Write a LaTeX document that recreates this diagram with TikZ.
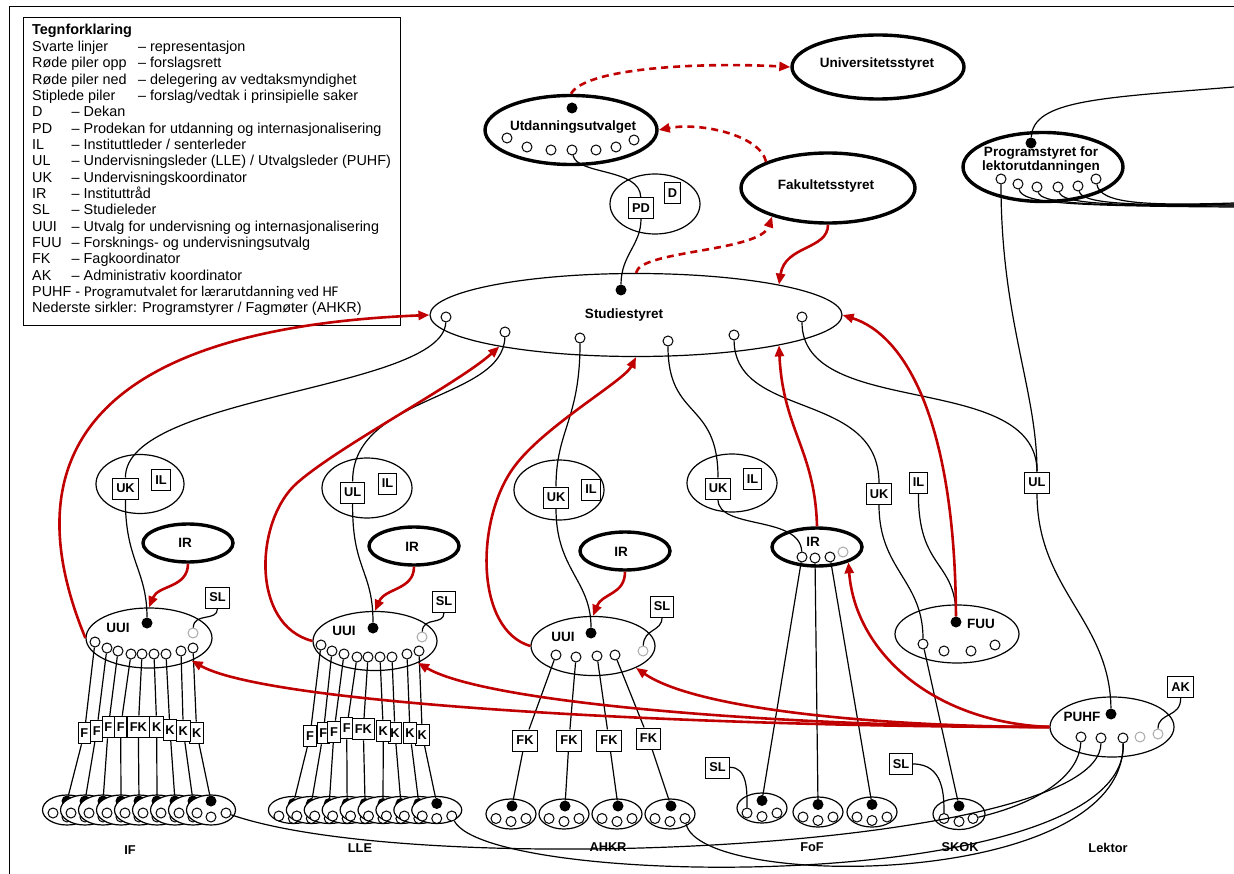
\documentclass[tikz,border=0pt]{standalone}
\usepackage{fontspec}
\setmainfont{Liberation Sans}
\newfontfamily\carl{Carlito}
\usetikzlibrary{shapes.geometric,arrows.meta}
\definecolor{myred}{RGB}{192,0,0}
\definecolor{ltgray}{RGB}{170,170,170}
\newcommand\legf{\fontsize{14.4}{16}\selectfont}
\newcommand\bigf{\fontsize{13.5}{14}\selectfont\bfseries}
\newcommand\labf{\fontsize{12.8}{13}\selectfont\bfseries}
\begin{document}
\begin{tikzpicture}[x=1pt,y=-1pt,
 ln/.style={line width=1.2pt},
 el/.style={ellipse,draw,line width=1.2pt,inner sep=0pt,fill=white},
 tel/.style={ellipse,draw,line width=3.4pt,inner sep=0pt,fill=white},
 sc/.style={circle,draw,line width=1pt,fill=white,inner sep=0pt,minimum size=10pt},
 gsc/.style={sc,draw=ltgray},
 bd/.style={circle,fill=black,inner sep=0pt,minimum size=11pt},
 bx/.style={draw,fill=white,line width=1pt,inner xsep=3.5pt,inner ysep=0pt,minimum height=21pt,font=\labf},
 fkb/.style={bx,inner xsep=2.2pt},
 lbl/.style={font=\bigf,inner sep=0pt},
 sml/.style={font=\labf,inner sep=0pt},
 lg/.style={font=\legf,inner sep=0pt,anchor=base west},
 rar/.style={draw=myred,line width=2.6pt,-{Triangle[length=11pt,width=9pt]}},
 dar/.style={rar,dash pattern=on 7pt off 5pt},
]
\useasboundingbox (0,0) rectangle (1234,874);
% frame
\coordinate (fa) at (9,874); \coordinate (fb) at (9,7); \coordinate (fc) at (1234,7);
\draw[line width=1pt] (fa) -- (fb) -- (fc);

% ---------------- legend
\node[draw,line width=1.2pt,fill=white,anchor=north west,minimum width=377pt,minimum height=308pt,inner sep=0pt] (leg) at (23,17) {};
\node[lg,font=\legf\bfseries] (lg0) at (32,35) {Tegnforklaring};
\node[lg] (a1) at (32,51.35) {Svarte linjer};   \node[lg] (b1) at (138,51.35) {– representasjon};
\node[lg] (a2) at (32,67.7) {Røde piler opp};   \node[lg] (b2) at (138,67.7) {– forslagsrett};
\node[lg] (a3) at (32,84.05) {Røde piler ned};  \node[lg] (b3) at (138,84.05) {– delegering av vedtaksmyndighet};
\node[lg] (a4) at (32,100.4) {Stiplede piler};  \node[lg] (b4) at (138,100.4) {– forslag/vedtak i prinsipielle saker};
\node[lg] (a5) at (32,116.75) {D};   \node[lg] (b5) at (71.5,116.75) {– Dekan};
\node[lg] (a6) at (32,133.1) {PD};   \node[lg] (b6) at (71.5,133.1) {– Prodekan for utdanning og internasjonalisering};
\node[lg] (a7) at (32,149.45) {IL};  \node[lg] (b7) at (71.5,149.45) {– Instituttleder / senterleder};
\node[lg] (a8) at (32,165.8) {UL};   \node[lg] (b8) at (71.5,165.8) {– Undervisningsleder (LLE) / Utvalgsleder (PUHF)};
\node[lg] (a9) at (32,182.15) {UK};  \node[lg] (b9) at (71.5,182.15) {– Undervisningskoordinator};
\node[lg] (a10) at (32,198.5) {IR};  \node[lg] (b10) at (71.5,198.5) {– Instituttråd};
\node[lg] (a11) at (32,214.85) {SL}; \node[lg] (b11) at (71.5,214.85) {– Studieleder};
\node[lg] (a12) at (32,231.2) {UUI}; \node[lg] (b12) at (71.5,231.2) {– Utvalg for undervisning og internasjonalisering};
\node[lg] (a13) at (32,247.55) {FUU};\node[lg] (b13) at (71.5,247.55) {– Forsknings- og undervisningsutvalg};
\node[lg] (a14) at (32,263.9) {FK};  \node[lg] (b14) at (71.5,263.9) {– Fagkoordinator};
\node[lg] (a15) at (32,280.25) {AK}; \node[lg] (b15) at (71.5,280.25) {– Administrativ koordinator};
\node[lg] (a16) at (32,296.6) {PUHF - {\carl\fontsize{14.8}{16}\selectfont Programutvalet for lærarutdanning ved HF}};
\node[lg] (a17) at (32,312.95) {Nederste sirkler: Programstyrer / Fagmøter (AHKR)};

% ---------------- top bodies
\node[tel,minimum width=172pt,minimum height=64pt] (univ) at (878,67) {};
\node[lbl] (univt) at (877,64) {Universitetsstyret};
\node[tel,minimum width=172pt,minimum height=69pt] (utd) at (571,130) {};
\node[lbl] (utdt) at (573,127) {Utdanningsutvalget};
\node[bd] (utdd) at (572,108) {};
\foreach \n/\x/\y in {1/507/138,2/527/147,3/551/150,4/572/150,5/596/150,6/616/147,7/634/140}
  \node[sc] (utc\n) at (\x,\y) {};
\node[tel,minimum width=174pt,minimum height=70pt] (fak) at (828,188) {};
\node[lbl] (fakt) at (826,186) {Fakultetsstyret};
\node[el,minimum width=90pt,minimum height=60pt] (pdd) at (655,204) {};
\node[bx] (pd) at (641,208) {PD};
\node[bx] (dk) at (672.5,193.5) {D};
\node[el,minimum width=412pt,minimum height=83pt] (ss) at (636,315) {};
\node[lbl] (sst) at (624,315) {Studiestyret};
\node[bd] (ssd) at (621,290) {};
\foreach \n/\x/\y in {1/446/317,2/505/332,3/580/338,4/668/341,5/734/335,6/802/317}
  \node[sc] (ssc\n) at (\x,\y) {};
\node[tel,minimum width=160pt,minimum height=69pt] (ps) at (1043,167) {};
\node[lbl,align=center] (pst) at (1041,160) {Programstyret for\\lektorutdanningen};
\node[bd] (psd) at (1031,143) {};
\foreach \n/\x/\y in {1/1001/179,2/1018/184,3/1037/187,4/1058/187,5/1078/186,6/1096/179}
  \node[sc] (psc\n) at (\x,\y) {};
\coordinate (pe0) at (1234,87);
\foreach \n/\y in {2/207,3/206,4/205,5/204,6/203} \coordinate (pe\n) at (1234,\y);

% top connectors
\draw[ln] (utc4) .. controls (577,175) and (640,168) .. (pd);
\draw[ln] (pd) .. controls (641,245) and (621,255) .. (ssd);
\draw[ln] (psd) .. controls (1033,100) and (1100,98) .. (pe0);
\foreach \n/\x in {2/1018,3/1037,4/1058,5/1078,6/1096}
  \draw[ln] (psc\n) .. controls (\x+4,203) and (\x+45,206) .. (pe\n);

% ---------------- IF cluster
\node[el,minimum width=88pt,minimum height=59pt] (ukil1) at (140,484) {};
\node[bx] (uk1) at (125.5,488.5) {UK};
\node[bx] (il1) at (161,480) {IL};
\node[tel,minimum width=90pt,minimum height=38pt] (ir1) at (188,543) {};
\node[lbl] (ir1t) at (185,543) {IR};
\node[el,minimum width=126pt,minimum height=60pt] (uui1) at (149,638) {};
\node[lbl] (uui1t) at (118,628) {UUI};
\node[bd] (uui1d) at (147,623) {};
\node[gsc] (uui1g) at (193,633) {};
\node[bx] (sl1) at (217.5,597.5) {SL};
\foreach \n/\x/\y in {1/95/642,2/107/648,3/118/651,4/131/654,5/142/654,6/154/654,7/166/654,8/181/651,9/193/648}
  \node[sc] (ifc\n) at (\x,\y) {};
\foreach \n/\x/\y/\t in {1/84.3/733.3/F,2/96.7/730.7/F,3/108.3/727.3/F,4/120.7/726.7/F,9/196.7/732.7/K,8/183.3/730.7/K,7/170/730/K,6/156.7/726.7/K,5/138.3/726.7/FK}
  \node[fkb] (ifb\n) at (\x,\y) {\t};
\foreach \n in {1,...,9} \draw[ln] (ifc\n) -- (ifb\n);
\foreach \i in {1,...,9} {
  \pgfmathsetmacro\cx{67+18*(\i-1)}
  \node[el,minimum width=49pt,minimum height=30pt] (ife\i) at (\cx,810) {};
  \node[sc] (ifl\i) at (\cx-14,813) {};
  \node[sc] (ifm\i) at (\cx,817) {};
  \node[sc] (ifr\i) at (\cx+15,813) {};
  \node[bd] (ifd\i) at (\cx,801) {};
  \draw[ln] (ifb\i) -- (ifd\i);
}
\node[sml] (iflab) at (130,850) {IF};

% ---------------- LLE cluster
\node[el,minimum width=90pt,minimum height=60pt] (ukil2) at (367,488) {};
\node[bx] (ul2) at (352.7,492.5) {UL};
\node[bx] (il2) at (387.6,483.5) {IL};
\node[tel,minimum width=90pt,minimum height=38pt] (ir2) at (414,546) {};
\node[lbl] (ir2t) at (412,546.5) {IR};
\node[el,minimum width=124pt,minimum height=59pt] (uui2) at (375,641) {};
\node[lbl] (uui2t) at (344,631) {UUI};
\node[bd] (uui2d) at (373,628) {};
\node[gsc] (uui2g) at (422,637) {};
\node[bx] (sl2) at (444,601.5) {SL};
\foreach \n/\x/\y in {1/321/645,2/332/651,3/344/654,4/357/657,5/368/657,6/380/657,7/392/657,8/407/654,9/419/651}
  \node[sc] (llc\n) at (\x,\y) {};
\foreach \n/\x/\y/\t in {1/310/736/F,2/323.3/733.3/F,3/334/731.7/F,4/346.7/728.3/F,9/422.3/735/K,8/410/733.3/K,7/395/732.7/K,6/383.3/730.7/K,5/363.3/729.3/FK}
  \node[fkb] (llb\n) at (\x,\y) {\t};
\foreach \n in {1,...,9} \draw[ln] (llc\n) -- (llb\n);
\foreach \i in {1,...,9} {
  \pgfmathsetmacro\cx{293.4+17.92*(\i-1)}
  \node[el,minimum width=50pt,minimum height=27pt] (lle\i) at (\cx,810) {};
  \node[sc] (lll\i) at (\cx-14.5,816) {};
  \node[sc] (llm\i) at (\cx,818.5) {};
  \node[sc] (llr\i) at (\cx+15,816) {};
  \node[bd] (lld\i) at (\cx,803.5) {};
  \draw[ln] (llb\i) -- (lld\i);
}
\node[sml] (lllab) at (360,848) {LLE};

% ---------------- AHKR cluster
\node[el,minimum width=90pt,minimum height=60pt] (ukil3) at (559,490) {};
\node[bx] (uk3) at (556,497.5) {UK};
\node[bx] (il3) at (591,489.5) {IL};
\node[tel,minimum width=90pt,minimum height=38pt] (ir3) at (625,551) {};
\node[lbl] (ir3t) at (621,551.5) {IR};
\node[el,minimum width=124pt,minimum height=59pt] (uui3) at (593,646) {};
\node[lbl] (uui3t) at (563,637) {UUI};
\node[bd] (uui3d) at (591,633) {};
\node[gsc] (uui3g) at (643,651) {};
\node[bx] (sl3) at (662,606.5) {SL};
\foreach \n/\x/\y in {1/556/655,2/576/657,3/597/656,4/615/655}
  \node[sc] (ahc\n) at (\x,\y) {};
\foreach \n/\x/\y in {1/525/740.5,2/569/740.5,3/609/740.5,4/648.5/738.5}
  \node[bx] (ahb\n) at (\x,\y) {FK};
\foreach \n/\x in {1/511,2/564,3/617,4/670} {
  \node[el,minimum width=50pt,minimum height=30pt] (ahe\n) at (\x,814) {};
  \node[bd] (ahd\n) at (\x+1,806) {};
  \node[sc] (ahl\n) at (\x-15,818.5) {};
  \node[sc] (ahm\n) at (\x,821.5) {};
  \node[sc] (ahr\n) at (\x+15,818.5) {};
}
\foreach \n in {1,...,4} {\draw[ln] (ahc\n) -- (ahb\n); \draw[ln] (ahb\n) -- (ahd\n);}
\node[sml] (ahlab) at (608,847) {AHKR};

% ---------------- FoF cluster
\node[el,minimum width=90pt,minimum height=58pt] (ukil4) at (732,483) {};
\node[bx] (uk4) at (718,488.5) {UK};
\node[bx] (il4) at (752.5,479) {IL};
\node[tel,minimum width=90pt,minimum height=38pt] (ir4) at (817,547) {};
\node[lbl] (ir4t) at (813,542) {IR};
\foreach \n/\x/\y in {1/802/557,2/815/558,3/830/557} \node[sc] (ir4c\n) at (\x,\y) {};
\node[gsc] (ir4g) at (843,552) {};
\foreach \n/\x/\y in {1/762/808,2/818/812,3/872/812} {
  \node[el,minimum width=50pt,minimum height=30pt] (fof\n) at (\x,\y) {};
  \node[bd] (fofd\n) at (\x,\y-7.5) {};
  \node[sc] (fofl\n) at (\x-15,\y+5) {};
  \node[sc] (fofm\n) at (\x,\y+8.5) {};
  \node[sc] (fofr\n) at (\x+15,\y+5) {};
}
\node[bx] (slf) at (717.5,767.5) {SL};
\node[sml] (foflab) at (812,847) {FoF};

% ---------------- FUU / SKOK
\node[el,minimum width=124pt,minimum height=58pt] (fuu) at (957,634) {};
\node[lbl] (fuut) at (981,624) {FUU};
\node[bd] (fuud) at (956,622) {};
\foreach \n/\x/\y in {1/923/644,2/944/651,3/971/651,4/995/645} \node[sc] (fuuc\n) at (\x,\y) {};
\node[bx] (uk5) at (879,494) {UK};
\node[bx] (il5) at (918.5,482.5) {IL};
\node[el,minimum width=52pt,minimum height=31pt] (sk) at (959,814) {};
\node[bd] (skd) at (959,806) {};
\node[sc] (skl) at (944,818.5) {};
\node[sc] (skm) at (959,821.5) {};
\node[sc] (skr) at (973,818.5) {};
\node[bx] (slk) at (901,764) {SL};
\node[sml] (sklab) at (960,847) {SKOK};

% ---------------- PUHF / Lektor
\node[bx] (ul6) at (1037,482.5) {UL};
\node[el,minimum width=124pt,minimum height=60pt] (puhf) at (1112,727) {};
\node[lbl] (puhft) at (1082,717) {PUHF};
\node[bd] (puhfd) at (1111,714) {};
\node[sc] (puc1) at (1081,737) {};
\node[sc] (puc2) at (1101,738) {};
\node[sc] (puc3) at (1123,738) {};
\node[gsc] (pug1) at (1140,737) {};
\node[gsc] (pug2) at (1158,734) {};
\node[bx] (ak) at (1180.5,687) {AK};
\node[sml] (leklab) at (1108,848) {Lektor};

% ---------------- black connectors
\draw[ln] (ssc1) .. controls (443,390) and (125,395) .. (uk1);
\draw[ln] (uk1) .. controls (125,560) and (147,570) .. (uui1d);
\draw[ln] (ssc2) .. controls (503,400) and (352,395) .. (ul2);
\draw[ln] (ul2) .. controls (352,570) and (373,570) .. (uui2d);
\draw[ln] (ssc3) .. controls (580,420) and (556,430) .. (uk3);
\draw[ln] (uk3) .. controls (556,570) and (591,580) .. (uui3d);
\draw[ln] (ssc4) .. controls (668,420) and (718,400) .. (uk4);
\draw[ln] (uk4) .. controls (718,530) and (800,515) .. (ir4c1);
\draw[ln] (ssc5) .. controls (735,420) and (879,390) .. (uk5);
\draw[ln] (uk5) .. controls (879,570) and (923,580) .. (fuuc1);
\draw[ln] (fuuc1) -- (skd);
\draw[ln] (il5) .. controls (918,570) and (956,560) .. (fuud);
\draw[ln] (ssc6) .. controls (802,420) and (1037,370) .. (ul6);
\draw[ln] (psc1) .. controls (1001,320) and (1037,390) .. (ul6);
\draw[ln] (ul6) .. controls (1037,590) and (1110,620) .. (puhfd);
\draw[ln] (ak) .. controls (1181,718) and (1158,712) .. (pug2);
\draw[ln] (sl1) .. controls (217.5,622) and (194,612) .. (uui1g);
\draw[ln] (sl2) .. controls (444,626) and (423,616) .. (uui2g);
\draw[ln] (sl3) .. controls (662,632) and (644,628) .. (uui3g);
\draw[ln] (slf) .. controls (748,767) and (747,792) .. (fofl1);
\draw[ln] (slk) .. controls (944,764) and (944,796) .. (skl);
\foreach \n in {1,2,3} \draw[ln] (ir4c\n) -- (fofd\n);
% bottom long curves
\draw[ln] (ifr9) .. controls (420,880) and (1100,850) .. (puc2);
\draw[ln] (skr) .. controls (1030,805) and (1079,780) .. (puc1);
\draw[ln] (llr9) .. controls (490,890) and (1130,895) .. (puc3);
\draw[ln] (ahr4) .. controls (700,890) and (1125,890) .. (puc3);

% ---------------- red connectors
\draw[dar] (utd.north) .. controls (585,68) and (700,62) .. (univ.west);
\draw[dar] (fak.157) .. controls (760,135) and (700,122) .. (utd.east);
\draw[dar] (ss.north) .. controls (640,250) and (760,252) .. (fak.207);
\draw[rar] (fak.south) .. controls (828,250) and (785,245) .. (ss.12);
\draw[rar] (uui1.west) .. controls (20,480) and (60,330) .. (ss.west);
\draw[rar] (uui2.west) .. controls (250,625) and (255,520) .. (297,483) .. controls (339,446) and (459,383) .. (ss.193);
\draw[rar] (uui3.west) .. controls (475,630) and (475,520) .. (514,467) .. controls (544,426) and (624,381) .. (ss.south);
\draw[rar] (ir1.south) .. controls (188,588) and (158,585) .. (uui1.north);
\draw[rar] (ir2.south) .. controls (414,590) and (385,588) .. (uui2.north);
\draw[rar] (ir3.south) .. controls (625,595) and (602,593) .. (uui3.north);
\draw[rar] (ir4.north) .. controls (815,450) and (783,430) .. (ss.-12);
\draw[rar] (fuud) .. controls (955,420) and (905,335) .. (ss.east);
\draw[rar] (puhf.west) .. controls (700,727) and (270,705) .. (uui1.-28);
\draw[rar] (puhf.west) .. controls (800,727) and (490,705) .. (uui2.-27);
\draw[rar] (puhf.west) .. controls (900,727) and (700,712) .. (uui3.-27);
\draw[rar] (puhf.west) .. controls (930,722) and (855,650) .. (ir4.-26);
\end{tikzpicture}
\end{document}
